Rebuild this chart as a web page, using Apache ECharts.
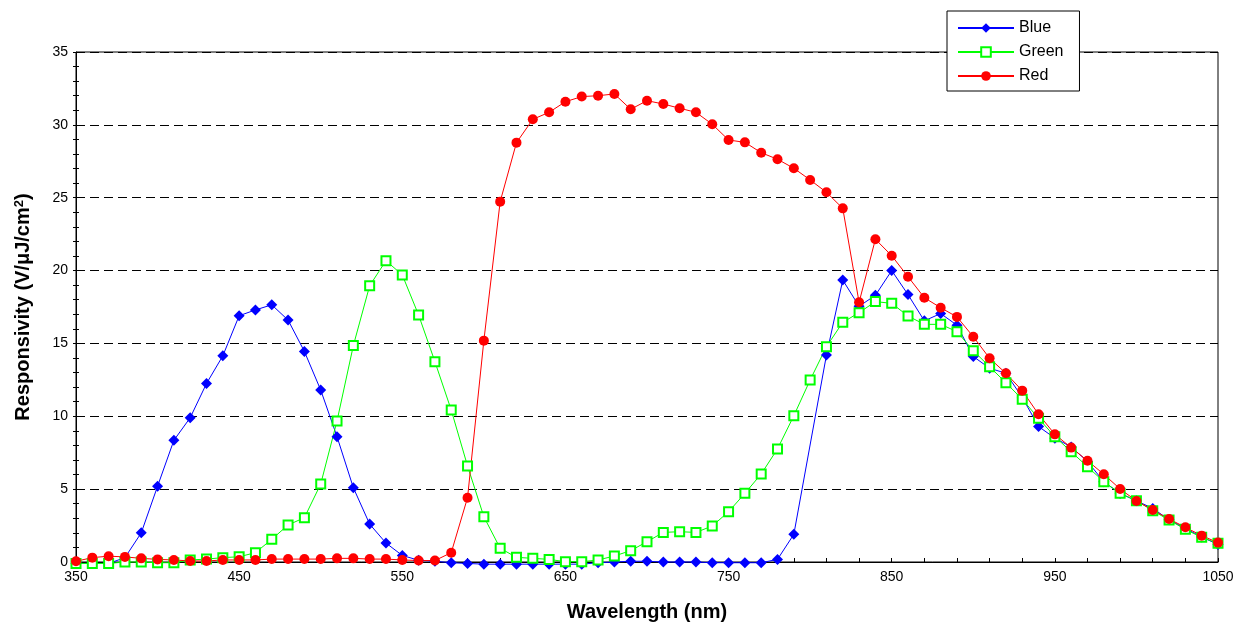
<!DOCTYPE html>
<html>
<head>
<meta charset="utf-8">
<script src="https://cdn.jsdelivr.net/npm/echarts@6/dist/echarts.min.js"></script>
<style>
  html, body { margin: 0; padding: 0; background: #fff; }
  #chart { width: 1239px; height: 624px; }
</style>
</head>
<body>
<div id="chart"></div>
<script>
const wavelengths = [
  350, 360, 370, 380, 390, 400, 410, 420, 430, 440,
  450, 460, 470, 480, 490, 500, 510, 520, 530, 540,
  550, 560, 570, 580, 590, 600, 610, 620, 630, 640,
  650, 660, 670, 680, 690, 700, 710, 720, 730, 740,
  750, 760, 770, 780, 790, 800, 810, 820, 830, 840,
  850, 860, 870, 880, 890, 900, 910, 920, 930, 940,
  950, 960, 970, 980, 990, 1000, 1010, 1020, 1030, 1040,
  1050
];

const blue = [
  -0.1, -0.1, -0.1, 0.3, 2.0, 5.2, 8.35, 9.9, 12.25, 14.15,
  16.9, 17.3, 17.65, 16.6, 14.45, 11.8, 8.6, 5.1, 2.6, 1.3,
  0.45, 0.12, 0.05, -0.05, -0.1, -0.15, -0.15, -0.15, -0.15, -0.15,
  -0.15, -0.15, -0.05, 0.0, 0.05, 0.05, 0.0, 0.0, 0.0, -0.05,
  -0.05, -0.05, -0.05, 0.18, 1.9, null, 14.2, 19.35, 17.55, 18.3,
  20.0, 18.35, 16.55, 17.05, 16.25, 14.1, 13.3, 12.95, 11.3, 9.3,
  8.5, 7.9, 6.9, 5.5, 4.7, 4.2, 3.68, 2.9, 2.3, 1.72,
  1.2
];

const green = [
  -0.1, -0.1, -0.1, 0.0, 0.0, -0.05, -0.05, 0.14, 0.2, 0.3,
  0.36, 0.64, 1.56, 2.54, 3.04, 5.35, 9.68, 14.85, 18.96, 20.68,
  19.7, 16.95, 13.75, 10.43, 6.59, 3.11, 0.94, 0.32, 0.25, 0.18,
  0.02, 0.02, 0.14, 0.41, 0.78, 1.39, 2.03, 2.08, 2.03, 2.47,
  3.45, 4.71, 6.04, 7.76, 10.04, 12.49, 14.78, 16.45, 17.11, 17.87,
  17.75, 16.88, 16.31, 16.31, 15.81, 14.5, 13.4, 12.3, 11.17, 9.86,
  8.6, 7.57, 6.54, 5.51, 4.71, 4.21, 3.52, 2.88, 2.24, 1.69,
  1.28
];

const red = [
  0.05, 0.3, 0.4, 0.35, 0.25, 0.18, 0.14, 0.07, 0.07, 0.14,
  0.14, 0.14, 0.2, 0.2, 0.2, 0.2, 0.25, 0.25, 0.2, 0.2,
  0.14, 0.1, 0.1, 0.64, 4.41, 15.19, 24.73, 28.78, 30.38, 30.86,
  31.59, 31.94, 32.0, 32.12, 31.07, 31.66, 31.43, 31.14, 30.86, 30.04,
  28.96, 28.8, 28.09, 27.64, 27.02, 26.22, 25.37, 24.27, 17.82, 22.15,
  21.02, 19.58, 18.14, 17.45, 16.82, 15.46, 13.98, 12.95, 11.76, 10.14,
  8.76, 7.85, 6.95, 6.02, 5.01, 4.19, 3.57, 2.95, 2.38, 1.81,
  1.33
];

const seriesNames = ['Blue', 'Green', 'Red'];
const yTicks = { min: 0, max: 35, interval: 5 };

const FONT = '"Liberation Sans", Arial, sans-serif';

const chart = echarts.init(document.getElementById('chart'), null, { renderer: 'canvas' });

const option = {
  animation: false,
  backgroundColor: '#fff',
  textStyle: { fontFamily: FONT },
  grid: {
    left: 76, right: 21, top: 52, bottom: 62,
    containLabel: false,
    outerBoundsMode: 'none',
    show: true, borderColor: '#000', borderWidth: 1, backgroundColor: 'transparent'
  },
  legend: {
    data: seriesNames,
    orient: 'vertical',
    left: 947, top: 11,
    padding: [9, 16, 7, 10],
    backgroundColor: '#fff',
    borderColor: '#000',
    borderWidth: 1,
    borderRadius: 0,
    itemWidth: 56,
    itemHeight: 12,
    itemGap: 8,
    itemTextGap: 14,
    textStyle: { fontFamily: FONT, fontSize: 16, color: '#000' }
  },
  xAxis: {
    type: 'category',
    data: wavelengths,
    boundaryGap: false,
    name: 'Wavelength (nm)',
    nameLocation: 'middle',
    nameGap: 40,
    nameTextStyle: { fontFamily: FONT, fontSize: 20, fontWeight: 'bold', color: '#000' },
    axisLine: { lineStyle: { color: '#000', width: 1 } },
    axisTick: { inside: true, length: 4, interval: 1, lineStyle: { color: '#000' } },
    axisLabel: { interval: 9, margin: 8, fontFamily: FONT, fontSize: 14, color: '#000' },
    splitLine: { show: false }
  },
  yAxis: [
    {
      type: 'value',
      min: yTicks.min, max: yTicks.max, interval: yTicks.interval,
      position: 'left',
      name: 'Responsivity (V/μJ/cm{sup|2})',
      nameLocation: 'middle',
      nameGap: 42,
      nameRotate: 90,
      nameTextStyle: {
        fontFamily: FONT, fontSize: 20, fontWeight: 'bold', color: '#000',
        rich: {
          sup: { fontFamily: FONT, fontSize: 13, fontWeight: 'bold', color: '#000', verticalAlign: 'top', padding: [0, 0, 8, 0] }
        }
      },
      axisLine: { show: true, lineStyle: { color: '#000', width: 1 } },
      axisTick: { show: true, inside: false, length: 3, lineStyle: { color: '#000' } },
      minorTick: { show: true, splitNumber: 5, length: 3, lineStyle: { color: '#000' } },
      axisLabel: { margin: 8, fontFamily: FONT, fontSize: 14, color: '#000' },
      splitLine: { show: true, lineStyle: { color: '#000', type: [9, 5], width: 1 } }
    },
    {
      type: 'value',
      min: yTicks.min, max: yTicks.max, interval: yTicks.interval,
      position: 'left',
      axisLine: { show: false },
      axisTick: { show: true, inside: true, length: 3, lineStyle: { color: '#000' } },
      minorTick: { show: true, splitNumber: 5, length: 3, lineStyle: { color: '#000' } },
      axisLabel: { show: false },
      splitLine: { show: false }
    }
  ],
  series: [
    {
      name: 'Blue', type: 'line', data: blue, connectNulls: true, clip: false,
      showAllSymbol: true,
      symbol: 'diamond', symbolSize: 11,
      lineStyle: { color: '#0000ff', width: 1 },
      itemStyle: { color: '#0000ff' }
    },
    {
      name: 'Green', type: 'line', data: green, clip: false,
      showAllSymbol: true,
      symbol: 'emptyRect', symbolSize: 9,
      lineStyle: { color: '#00ff00', width: 1 },
      itemStyle: { color: '#00ff00', borderColor: '#00ff00', borderWidth: 1.6 }
    },
    {
      name: 'Red', type: 'line', data: red, clip: false,
      showAllSymbol: true,
      symbol: 'circle', symbolSize: 10,
      lineStyle: { color: '#ff0000', width: 1 },
      itemStyle: { color: '#ff0000' }
    }
  ]
};

chart.setOption(option);
</script>
</body>
</html>
